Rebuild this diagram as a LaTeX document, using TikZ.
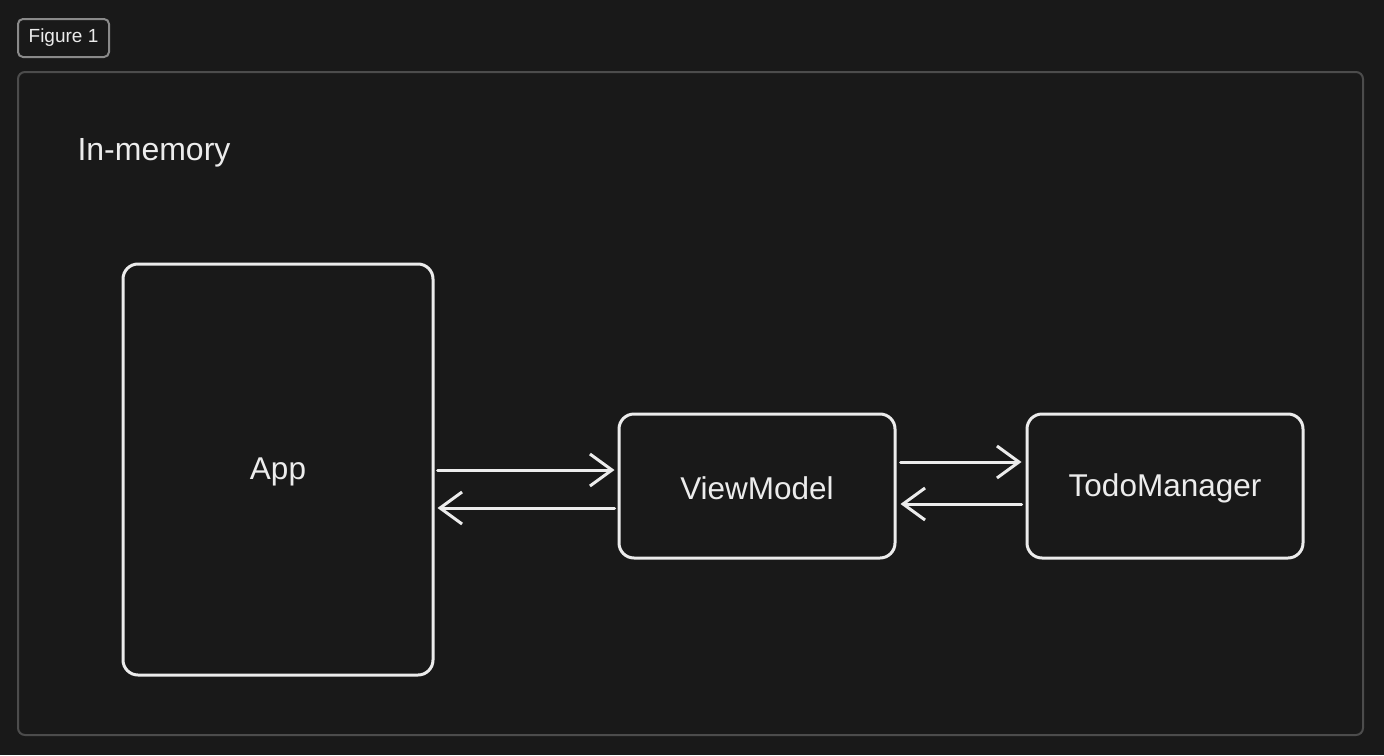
\documentclass[tikz,border=0pt]{standalone}
\usepackage{fontspec}
\setmainfont{Liberation Sans}
\usetikzlibrary{arrows.meta}
\definecolor{bg}{HTML}{191919}
\definecolor{ink}{HTML}{ECECEC}
\definecolor{framegray}{HTML}{4C4C4C}
\definecolor{taggray}{HTML}{8A8A8A}
\tikzset{
  block/.style={draw=ink, line width=3pt, rounded corners=15pt, fill=bg, inner sep=0pt},
  blocktext/.style={text=ink, font=\fontsize{31.5}{36}\selectfont},
  flow/.style={draw=ink, line width=3pt, line cap=round,
    -{Straight Barb[length=22pt,width=32pt,line width=3pt]}},
}
\begin{document}
\begin{tikzpicture}[x=1pt, y=-1pt]
  \fill[bg] (0,0) rectangle (1384,755);
  \useasboundingbox (0,0) rectangle (1384,755);

  % caption tag and outer frame
  \node[draw=taggray, line width=2pt, rounded corners=5pt, minimum width=91pt,
        minimum height=38pt, inner sep=0pt, text=ink,
        font=\fontsize{19}{22}\selectfont] (tag) at (63.5,38) {Figure 1};
  \draw[framegray, line width=2pt, rounded corners=7pt] (18,72) rectangle (1363,735);
  \node[anchor=west, text=ink, font=\fontsize{32}{38}\selectfont] (title) at (74,153) {In-memory};

  % components
  \node[block, minimum width=310pt, minimum height=411pt] (app) at (278,469.5) {};
  \node[blocktext] (applabel) at (278,472) {App};
  \node[block, minimum width=276pt, minimum height=144pt] (vm) at (757,486) {};
  \node[blocktext] (vmlabel) at (757,488) {ViewModel};
  \node[block, minimum width=276pt, minimum height=144pt] (tm) at (1165,486) {};
  \node[blocktext] (tmlabel) at (1165,488) {TodoManager};

  % message flow
  \draw[flow] ([xshift=3pt]app.east |- 0,470) -- ([xshift=-3pt]vm.west |- 0,470);
  \draw[flow] ([xshift=-3pt]vm.west |- 0,508) -- ([xshift=3pt]app.east |- 0,508);
  \draw[flow] ([xshift=4pt]vm.east |- 0,462) -- ([xshift=-4pt]tm.west |- 0,462);
  \draw[flow] ([xshift=-4pt]tm.west |- 0,504) -- ([xshift=4pt]vm.east |- 0,504);
\end{tikzpicture}
\end{document}
